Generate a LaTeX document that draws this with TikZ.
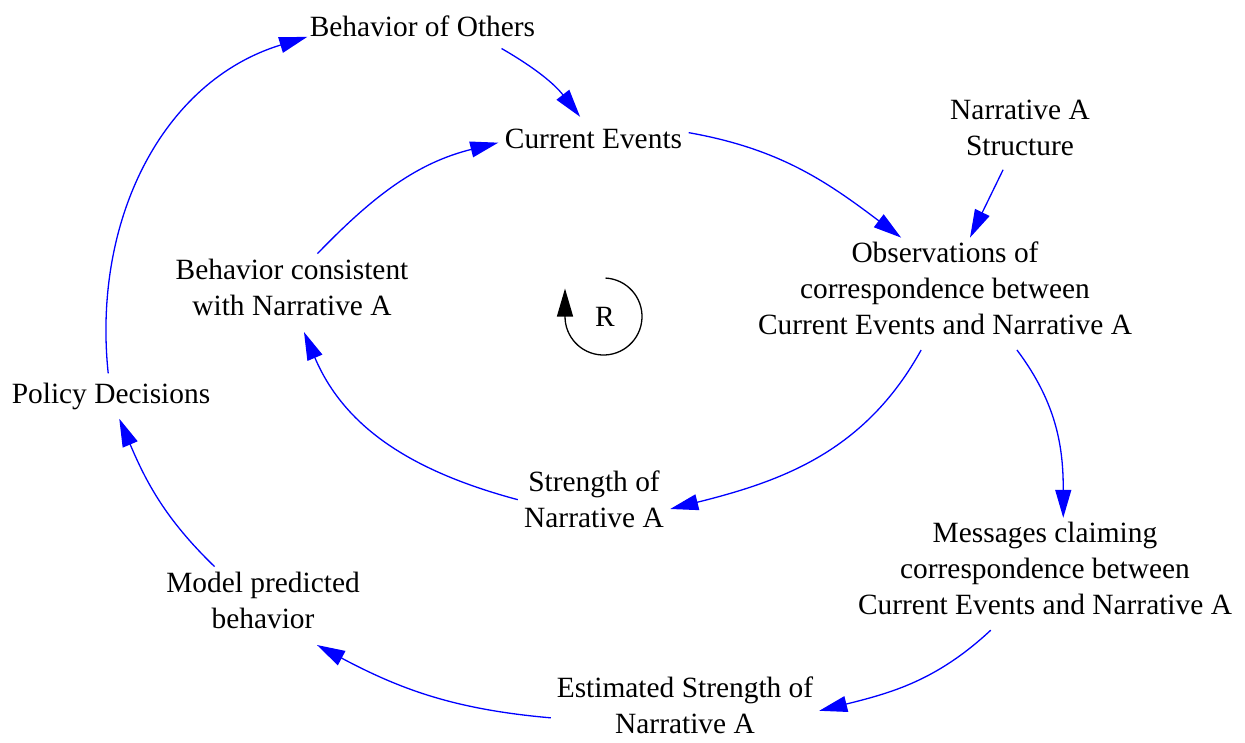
\documentclass[tikz,border=0pt]{standalone}
\usepackage{fontspec}
\setmainfont{Liberation Serif}
\usetikzlibrary{arrows.meta}

\definecolor{linkblue}{RGB}{0,0,255}

\tikzset{
  var/.style={inner sep=0pt, align=center,
    font=\fontsize{29.4}{36}\selectfont,
    execute at begin node=\strut, execute at end node=\strut},
  link/.style={draw=linkblue, line width=1.3pt,
    -{Triangle[length=28pt,width=16pt]}},
  looparrow/.style={draw=black, line width=1.3pt,
    -{Triangle[length=28pt,width=16pt]}},
}

\begin{document}
\begin{tikzpicture}[x=1pt,y=1pt]
\useasboundingbox (0,0) rectangle (1245,-742);

% variables
\node[var, minimum width=230, minimum height=39] (BO)  at (422.5,-28.8) {Behavior of Others};
\node[var, minimum width=190, minimum height=48] (CE)  at (593.5,-141)  {Current Events};
\node[var, minimum width=150, minimum height=72] (NS)  at (1020,-133.5) {Narrative A\\Structure};
\node[var, minimum width=380, minimum height=112] (OBS) at (945,-293.8) {Observations of\\correspondence between\\Current Events and Narrative A};
\node[var, minimum width=236, minimum height=78] (BC)  at (292,-292.8)  {Behavior consistent\\with Narrative A};
\node[var, minimum width=200, minimum height=45] (PD)  at (111,-396)    {Policy Decisions};
\node[var, minimum width=152, minimum height=80] (STR) at (594,-505)    {Strength of\\Narrative A};
\node[var, minimum width=380, minimum height=112] (MSG) at (1045,-574)  {Messages claiming\\correspondence between\\Current Events and Narrative A};
\node[var, minimum width=210, minimum height=78] (MPB) at (263,-605.8)  {Model predicted\\behavior};
\node[var, minimum width=268, minimum height=80] (ESN) at (685,-710.8)  {Estimated Strength of\\Narrative A};

% loop marker
\node[var] (R) at (605,-319.5) {R};
\draw[looparrow] (603.5,-316.5) ++(87:38.5)
  arc[start angle=87, end angle=-180, radius=38.5] -- ++(0,28);

% causal links
\draw[link] (BO.-14)   to[out=-30,in=128]  (CE.119);
\draw[link] (CE.5)     to[out=-10,in=143]  (OBS.128);
\draw[link] (NS.-115)  --                  (OBS.66);
\draw[link] (OBS.-113) to[out=-119,in=14]  (STR.-3);
\draw[link] (OBS.-38)  to[out=-53,in=90]   (MSG.72);
\draw[link] (STR.176)  to[out=165,in=-67]  (BC.-73);
\draw[link] (BC.57)    to[out=46,in=-166]  (CE.181);
\draw[link] (MSG.-134) to[out=-137,in=14]  (ESN.0);
\draw[link] (ESN.-177) to[out=175,in=-28]  (MPB.-36);
\draw[link] (MPB.141)  to[out=136,in=-67]  (PD.-70);
\draw[link] (PD.97)    to[out=96,in=-163]  (BO.184);
\end{tikzpicture}
\end{document}
